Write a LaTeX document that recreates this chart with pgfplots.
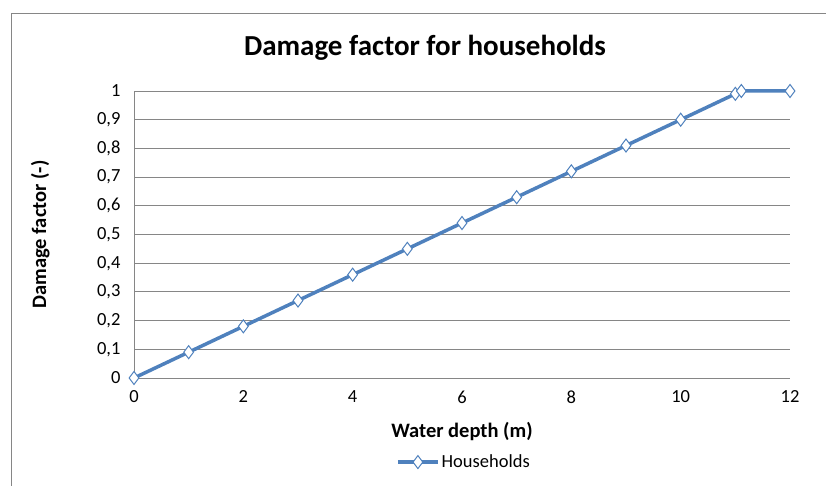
\documentclass[border=0pt]{standalone}
\usepackage{pgfplots}
\pgfplotsset{compat=1.18}
\usepackage{fontspec}
\setmainfont{Carlito}

\definecolor{serieblue}{HTML}{4F81BD}
\definecolor{gridgray}{HTML}{868686}

\begin{document}
\begin{tikzpicture}
  % page area
  \useasboundingbox (0pt,0pt) rectangle (826pt,486pt);
  \begin{scope}
    \clip (0pt,0pt) rectangle (826pt,486pt);
    % chart area frame
    \draw[gridgray, line width=1.2pt] (11.5pt,-10pt) -- (11.5pt,472.5pt) -- (840pt,472.5pt);
  \end{scope}

  \node[font=\bfseries\fontsize{29}{32}\selectfont] at (425pt,438pt) {Damage factor for households};

  \begin{axis}[
    at={(134pt,108pt)}, anchor=south west,
    scale only axis, width=656pt, height=287pt,
    xmin=0, xmax=12, ymin=0, ymax=1,
    xtick={0,2,...,12},
    ytick={0,0.1,...,1},
    axis x line*=bottom, axis y line*=left,
    axis line style={gridgray, line width=0.9pt, -},
    ymajorgrids, grid style={gridgray, line width=0.9pt},
    major tick length=0pt,
    tick label style={font=\fontsize{18.5}{20}\selectfont},
    /pgf/number format/assume math mode=true,
    /pgf/number format/use comma,
    yticklabel style={/pgf/number format/fixed, /pgf/number format/precision=1, xshift=-10pt},
    xticklabel style={yshift=-9pt},
    xlabel={\bfseries Water depth (m)},
    ylabel={\bfseries Damage factor (-)},
    label style={font=\bfseries\fontsize{20.5}{22}\selectfont},
    xlabel style={at={(axis description cs:0.5,-0.188)}, anchor=center},
    ylabel style={at={(axis description cs:-0.143,0.5)}, anchor=center, rotate=0},
    legend style={at={(0.503,-0.293)}, anchor=center, draw=none, fill=none,
      font=\fontsize{18.5}{20}\selectfont, legend columns=1},
    legend image code/.code={
      \draw[serieblue, line width=3.5pt] (0pt,0pt) -- (40pt,0pt);
      \draw[serieblue, fill=white, line width=1pt] plot[mark=diamond*, mark size=5.5pt] coordinates {(20pt,0pt)};
    },
    clip=false,
  ]
    \addplot[serieblue, line width=3.5pt, mark=diamond*,
      mark options={fill=white, line width=1pt, mark size=6.5pt}]
      coordinates {
        (0,0) (1,0.09) (2,0.18) (3,0.27) (4,0.36) (5,0.45) (6,0.54)
        (7,0.63) (8,0.72) (9,0.81) (10,0.90) (11,0.99) (11.11,1) (12,1)
      };
    \addlegendentry{Households}
  \end{axis}
\end{tikzpicture}
\end{document}
